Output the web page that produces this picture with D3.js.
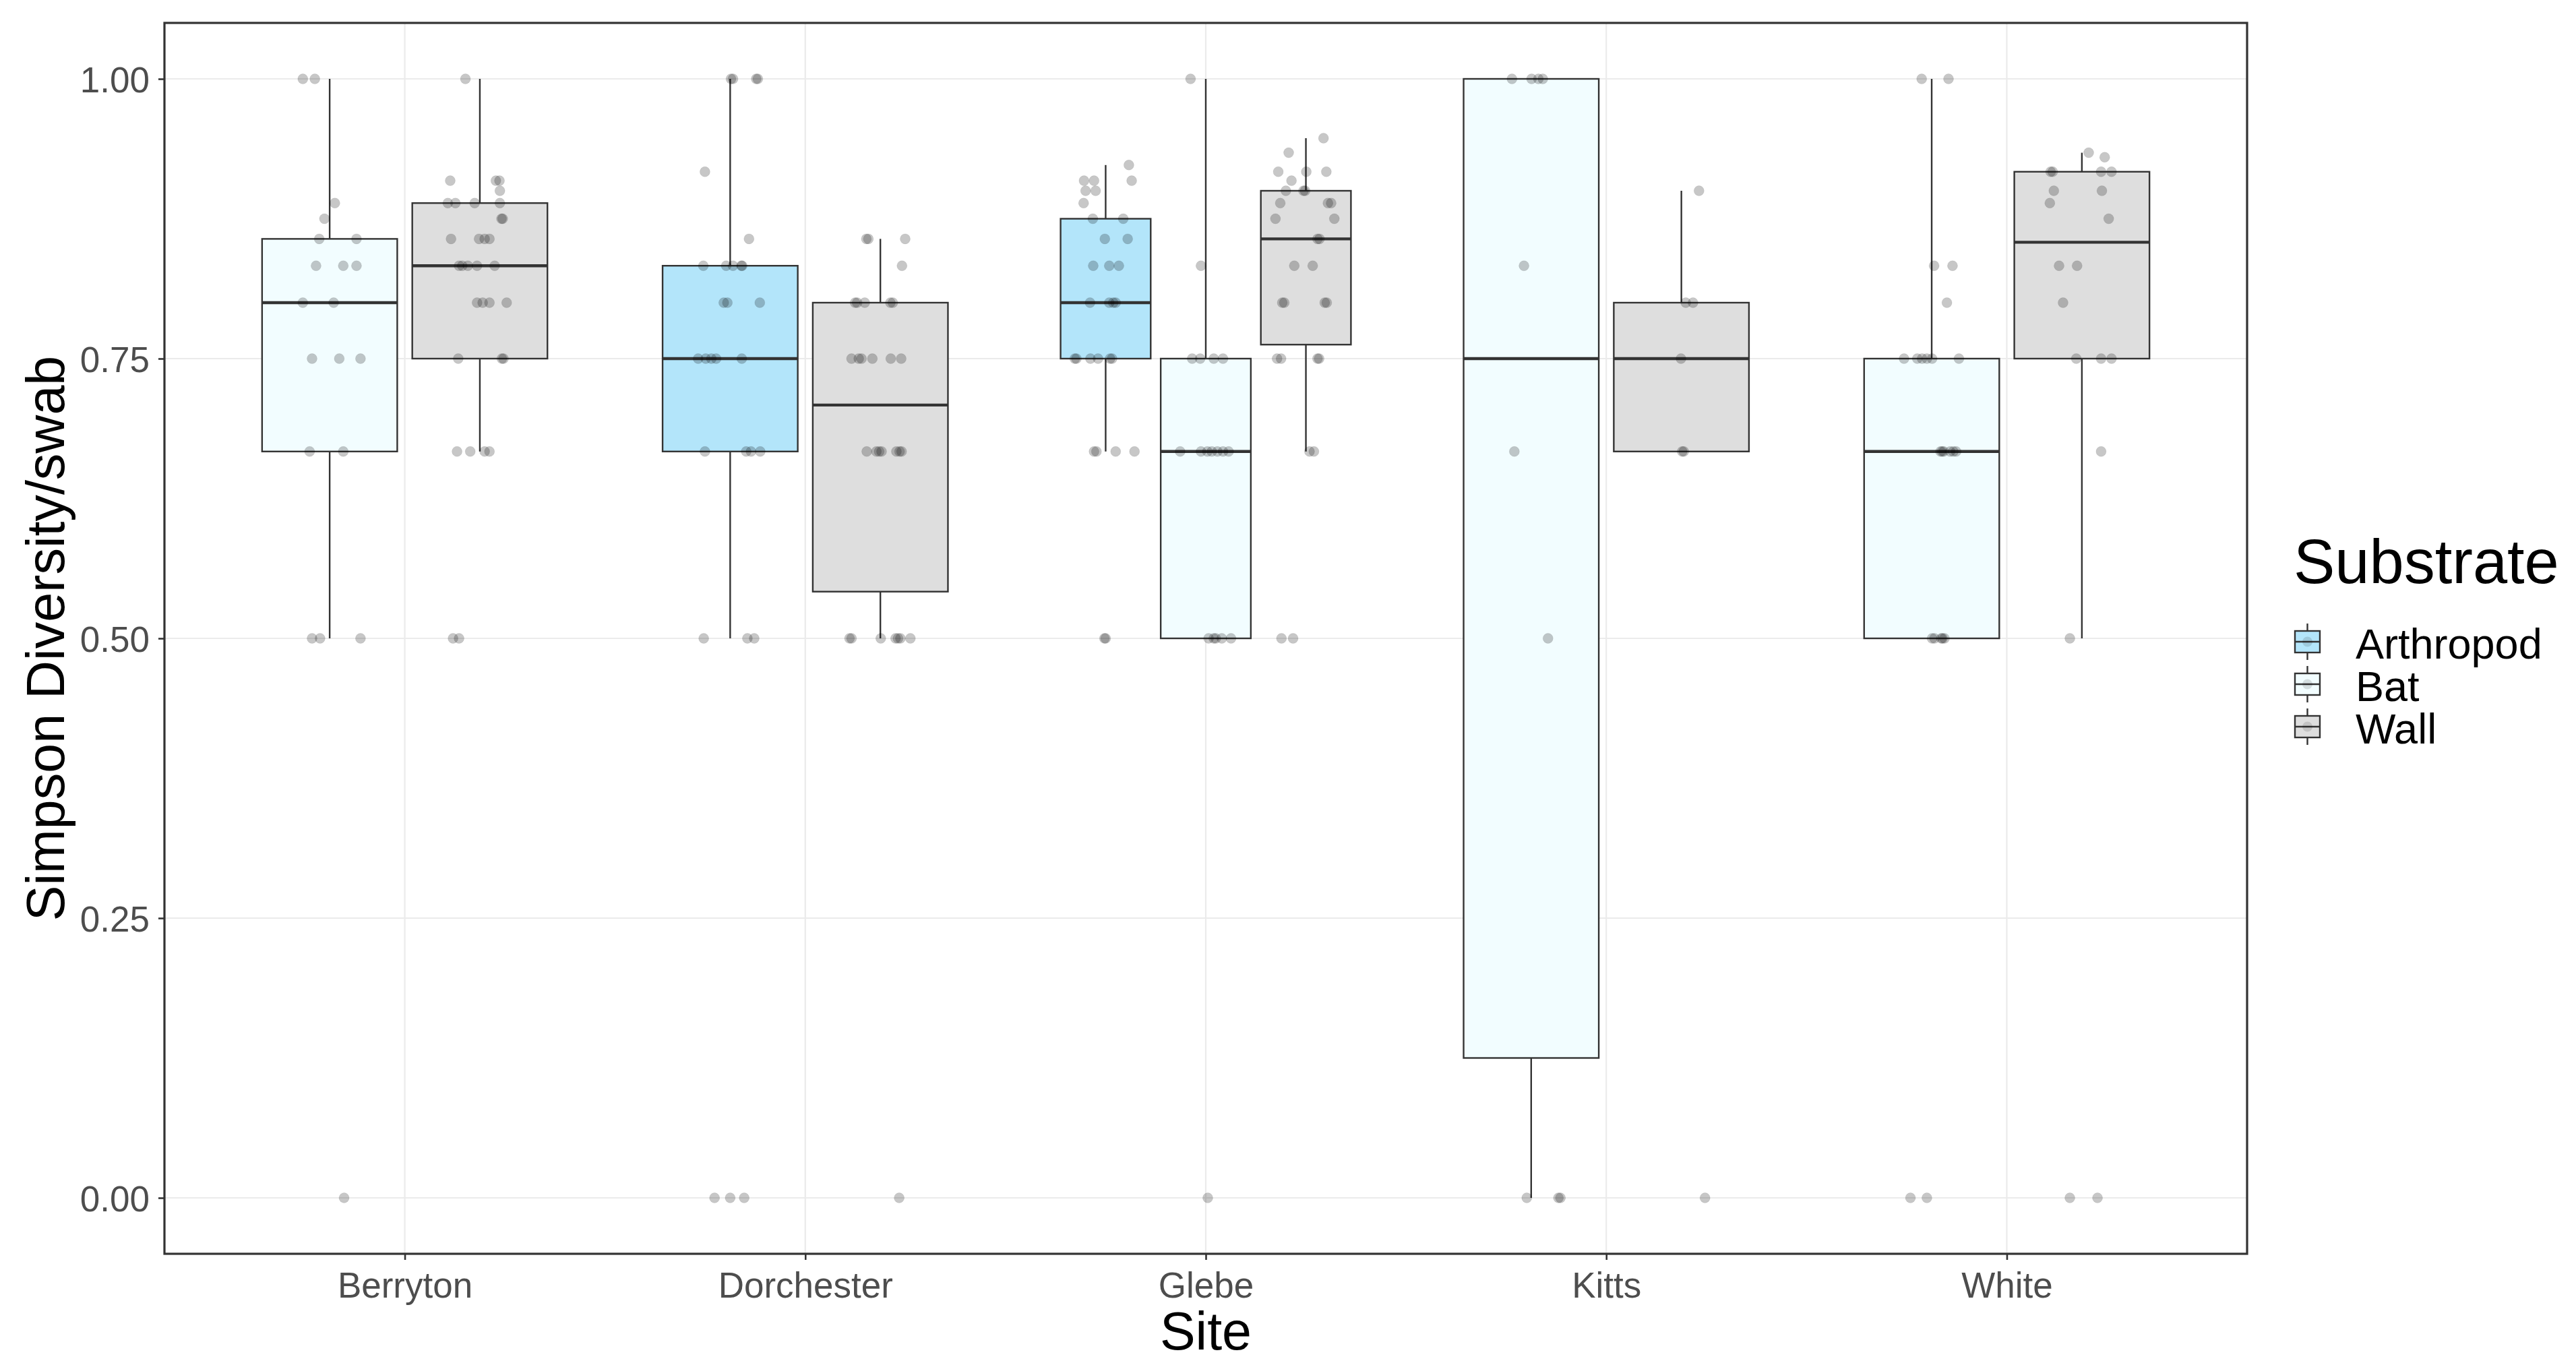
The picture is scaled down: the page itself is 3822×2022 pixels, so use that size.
<!DOCTYPE html>
<html>
<head>
<meta charset="utf-8">
<script src="https://cdn.jsdelivr.net/npm/d3@7"></script>
<style>
  html, body { margin: 0; padding: 0; background: #ffffff; }
  svg { display: block; }
  text { font-family: "Liberation Sans", Arial, Helvetica, sans-serif; }
</style>
</head>
<body>
<svg id="chart" width="3822" height="2022"></svg>
<script>
// ---------------- DATA ----------------
const sites = ["Berryton", "Dorchester", "Glebe", "Kitts", "White"];
const substrates = ["Arthropod", "Bat", "Wall"];
const yTicks = [0, 0.25, 0.5, 0.75, 1];
const yTickLabels = ["0.00", "0.25", "0.50", "0.75", "1.00"];
const xTitle = "Site";
const yTitle = "Simpson Diversity/swab";
const legendTitle = "Substrate";

// each point: [Simpson value, horizontal jitter in site-band units]
const berrytonBat = [[1,-.067],[1,-.037],[.889,.013],[.875,-.013],[.857,-.026],[.857,.067],
  [.833,-.034],[.833,.034],[.833,.067],[.8,-.067],[.8,.010],[.75,-.044],[.75,.024],[.75,.077],
  [.667,-.050],[.667,.034],[.5,-.044],[.5,-.024],[.5,.077],[0,.036]];
const berrytonWall = [[1,-.036],[.909,-.074],[.909,.040],[.909,.049],[.9,.050],
  [.889,-.080],[.889,-.061],[.889,-.013],[.889,.050],[.875,.054],[.875,.057],
  [.857,-.072],[.857,-.002],[.857,.012],[.857,.024],
  [.833,-.052],[.833,-.044],[.833,-.030],[.833,-.007],[.833,.037],
  [.8,-.007],[.8,.007],[.8,.024],[.8,.067],[.75,-.054],[.75,.055],[.75,.059],
  [.667,-.057],[.667,-.024],[.667,.012],[.667,.024],[.5,-.067],[.5,-.052]];
const dorchesterArthropod = [[1,.002],[1,.007],[1,.065],[1,.069],[.917,-.063],[.857,.047],
  [.833,-.067],[.833,-.010],[.833,.007],[.833,.028],[.833,.030],
  [.8,-.016],[.8,-.007],[.8,.074],
  [.75,-.080],[.75,-.061],[.75,-.047],[.75,-.035],[.75,.029],
  [.667,-.063],[.667,.040],[.667,.052],[.667,.075],
  [.5,-.066],[.5,.043],[.5,.060],[0,-.039],[0,0],[0,.035]];
const dorchesterWall = [[.857,-.035],[.857,-.030],[.857,.062],[.833,.054],
  [.8,-.063],[.8,-.058],[.8,-.039],[.8,.025],[.8,.031],
  [.75,-.072],[.75,-.054],[.75,-.047],[.75,-.020],[.75,.026],[.75,.052],
  [.667,-.034],[.667,-.010],[.667,-.003],[.667,.003],[.667,.040],[.667,.048],[.667,.053],
  [.5,-.077],[.5,-.072],[.5,.001],[.5,.038],[.5,.044],[.5,.050],[.5,.075],[0,.047]];
const glebeArthropod = [[.923,.058],[.909,-.054],[.909,-.029],[.909,.065],[.9,-.050],[.9,-.025],
  [.889,-.055],[.875,-.032],[.875,.044],[.857,-.002],[.857,.055],
  [.833,-.031],[.833,.009],[.833,.033],[.8,-.039],[.8,.009],[.8,.019],[.8,.025],
  [.75,-.077],[.75,-.073],[.75,-.038],[.75,-.019],[.75,.011],[.75,.016],
  [.667,-.029],[.667,-.023],[.667,.025],[.667,.072],[.5,-.003],[.5,.000]];
const glebeBat = [[1,-.038],[.833,-.012],[.75,-.034],[.75,-.014],[.75,.020],[.75,.043],
  [.667,-.064],[.667,-.012],[.667,.004],[.667,.015],[.667,.029],[.667,.043],[.667,.057],
  [.5,.007],[.5,.020],[.5,.025],[.5,.040],[.5,.063],[0,.005]];
const glebeWall = [[.947,.044],[.934,-.043],[.917,-.069],[.917,.001],[.917,.051],[.909,-.036],
  [.9,-.050],[.9,-.006],[.9,-.002],[.889,-.064],[.889,.055],[.889,.063],
  [.875,-.076],[.875,.071],[.857,.029],[.857,.034],[.833,-.029],[.833,.017],
  [.8,-.059],[.8,-.054],[.8,.047],[.8,.052],[.75,-.072],[.75,-.062],[.75,.029],[.75,.033],
  [.667,.009],[.667,.020],[.5,-.061],[.5,-.032]];
const kittsBat = [[1,-.048],[1,.001],[1,.018],[1,.029],[.833,-.018],[.667,-.042],[.5,.042],
  [0,-.011],[0,.068],[0,.073]];
const kittsWall = [[.9,.044],[.8,.011],[.8,.029],[.75,-.001],[.667,.002],[.667,.006],[0,.059]];
const whiteBat = [[1,-.025],[1,.042],[.833,.006],[.833,.052],[.8,.038],
  [.75,-.069],[.75,-.036],[.75,-.024],[.75,-.012],[.75,.001],[.75,.068],
  [.667,.022],[.667,.026],[.667,.030],[.667,.046],[.667,.054],[.667,.061],
  [.5,.001],[.5,.007],[.5,.024],[.5,.027],[.5,.032],[0,-.053],[0,-.012]];
const whiteWall = [[.934,.017],[.93,.057],[.917,-.078],[.917,-.073],[.917,.048],[.917,.074],
  [.9,-.070],[.9,.050],[.889,-.080],[.875,.067],[.833,-.057],[.833,-.012],[.8,-.047],
  [.75,-.014],[.75,.048],[.75,.074],[.667,.048],[.5,-.030],[0,-.030],[0,.039]];

const groups = [
  { site: "Berryton",   substrate: "Bat",       points: berrytonBat },
  { site: "Berryton",   substrate: "Wall",      points: berrytonWall },
  { site: "Dorchester", substrate: "Arthropod", points: dorchesterArthropod },
  { site: "Dorchester", substrate: "Wall",      points: dorchesterWall },
  { site: "Glebe",      substrate: "Arthropod", points: glebeArthropod },
  { site: "Glebe",      substrate: "Bat",       points: glebeBat },
  { site: "Glebe",      substrate: "Wall",      points: glebeWall },
  { site: "Kitts",      substrate: "Bat",       points: kittsBat },
  { site: "Kitts",      substrate: "Wall",      points: kittsWall },
  { site: "White",      substrate: "Bat",       points: whiteBat },
  { site: "White",      substrate: "Wall",      points: whiteWall }
];

// ---------------- STYLE / LAYOUT ----------------
const fillColor = d3.scaleOrdinal().domain(substrates).range(["#B3E5FA", "#F2FDFF", "#DEDEDE"]);
const ink = "#333333";
const panel = { l: 244, r: 3334, t: 34, b: 1860 };

const svg = d3.select("#chart");
svg.append("rect").attr("width", 3822).attr("height", 2022).attr("fill", "#ffffff");

const x = d3.scalePoint().domain(sites).range([panel.l, panel.r]).padding(0.6);
const step = x.step();
const y = d3.scaleLinear().domain([-0.05, 1.05]).range([panel.b, panel.t]);

// grid
const grid = svg.append("g");
grid.selectAll("line.gy").data(yTicks).join("line")
  .attr("x1", panel.l).attr("x2", panel.r)
  .attr("y1", d => y(d)).attr("y2", d => y(d))
  .attr("stroke", "#EBEBEB").attr("stroke-width", 2.2);
grid.selectAll("line.gx").data(sites).join("line")
  .attr("x1", d => x(d)).attr("x2", d => x(d))
  .attr("y1", panel.t).attr("y2", panel.b)
  .attr("stroke", "#EBEBEB").attr("stroke-width", 2.2);

// compute positions and stats
const eps = 1e-6;
groups.forEach(g => {
  const present = groups.filter(h => h.site === g.site).map(h => h.substrate);
  const dodge = d3.scaleBand().domain(present).range([-0.375, 0.375]);
  g.center = x(g.site) + (dodge(g.substrate) + dodge.bandwidth() / 2) * step;
  g.width = dodge.bandwidth() * 0.9 * step;
  const v = g.points.map(p => p[0]).sort(d3.ascending);
  g.q1 = d3.quantileSorted(v, 0.25);
  g.med = d3.quantileSorted(v, 0.5);
  g.q3 = d3.quantileSorted(v, 0.75);
  const iqr = g.q3 - g.q1;
  g.lo = d3.min(v.filter(d => d >= g.q1 - 1.5 * iqr - eps));
  g.hi = d3.max(v.filter(d => d <= g.q3 + 1.5 * iqr + eps));
});

const boxes = svg.append("g");
const bg = boxes.selectAll("g").data(groups).join("g");
bg.append("line")
  .attr("x1", d => d.center).attr("x2", d => d.center)
  .attr("y1", d => y(d.q3)).attr("y2", d => y(d.hi))
  .attr("stroke", ink).attr("stroke-width", 2.4);
bg.append("line")
  .attr("x1", d => d.center).attr("x2", d => d.center)
  .attr("y1", d => y(d.q1)).attr("y2", d => y(d.lo))
  .attr("stroke", ink).attr("stroke-width", 2.4);
bg.append("rect")
  .attr("x", d => d.center - d.width / 2).attr("width", d => d.width)
  .attr("y", d => y(d.q3)).attr("height", d => y(d.q1) - y(d.q3))
  .attr("fill", d => fillColor(d.substrate))
  .attr("stroke", ink).attr("stroke-width", 2.4);
bg.append("line")
  .attr("x1", d => d.center - d.width / 2).attr("x2", d => d.center + d.width / 2)
  .attr("y1", d => y(d.med)).attr("y2", d => y(d.med))
  .attr("stroke", ink).attr("stroke-width", 4.4);

// jittered points
const allPts = groups.flatMap(g => g.points.map(p => ({ g, v: p[0], j: p[1] })));
svg.append("g").selectAll("circle").data(allPts).join("circle")
  .attr("cx", d => d.g.center + d.j * step)
  .attr("cy", d => y(d.v))
  .attr("r", 7.5)
  .attr("fill", "#000000").attr("fill-opacity", 0.22)
  .attr("stroke", "#000000").attr("stroke-opacity", 0.08).attr("stroke-width", 1);

// panel border
svg.append("rect")
  .attr("x", panel.l).attr("y", panel.t)
  .attr("width", panel.r - panel.l).attr("height", panel.b - panel.t)
  .attr("fill", "none").attr("stroke", ink).attr("stroke-width", 3.2);

// axes
const yAxis = svg.append("g").attr("transform", `translate(${panel.l},0)`)
  .call(d3.axisLeft(y).tickValues(yTicks).tickSize(9).tickPadding(13)
    .tickFormat((d, i) => yTickLabels[i]));
yAxis.select(".domain").remove();
yAxis.selectAll(".tick line").attr("stroke", ink).attr("stroke-width", 2.6);
yAxis.selectAll(".tick text").attr("fill", "#4D4D4D")
  .style("font-size", "53px").attr("dy", "0.36em");

const xAxis = svg.append("g").attr("transform", `translate(0,${panel.b})`)
  .call(d3.axisBottom(x).tickSize(9).tickPadding(0));
xAxis.select(".domain").remove();
xAxis.selectAll(".tick line").attr("stroke", ink).attr("stroke-width", 2.6);
xAxis.selectAll(".tick text").attr("fill", "#4D4D4D")
  .style("font-size", "53px").attr("dy", null).attr("y", 65);

// titles
svg.append("text").attr("x", (panel.l + panel.r) / 2).attr("y", 2002)
  .attr("text-anchor", "middle").style("font-size", "79px").attr("fill", "#000")
  .text(xTitle);
svg.append("text").attr("transform", `translate(95,${(panel.t + panel.b) / 2}) rotate(-90)`)
  .attr("text-anchor", "middle").style("font-size", "79px").attr("fill", "#000")
  .text(yTitle);

// legend
const lg = svg.append("g");
lg.append("text").attr("x", 3403).attr("y", 865).style("font-size", "92px").attr("fill", "#000")
  .text(legendTitle);
const keyY = d3.scalePoint().domain(substrates).range([952, 1078]);
const key = lg.selectAll("g.key").data(substrates).join("g")
  .attr("transform", d => `translate(3423.5,${keyY(d)})`);
key.append("line").attr("x1", 0).attr("x2", 0).attr("y1", -27).attr("y2", 27)
  .attr("stroke", ink).attr("stroke-width", 2.4);
key.append("rect").attr("x", -18.5).attr("y", -16).attr("width", 37).attr("height", 32)
  .attr("fill", d => fillColor(d)).attr("stroke", ink).attr("stroke-width", 2.4);
key.append("line").attr("x1", -18.5).attr("x2", 18.5).attr("y1", 0).attr("y2", 0)
  .attr("stroke", ink).attr("stroke-width", 2.4);
key.append("circle").attr("r", 7.5).attr("fill", "#000").attr("fill-opacity", 0.12);
key.append("text").attr("x", 71.5).attr("y", 25).style("font-size", "63px").attr("fill", "#000")
  .text(d => d);
</script>
</body>
</html>
